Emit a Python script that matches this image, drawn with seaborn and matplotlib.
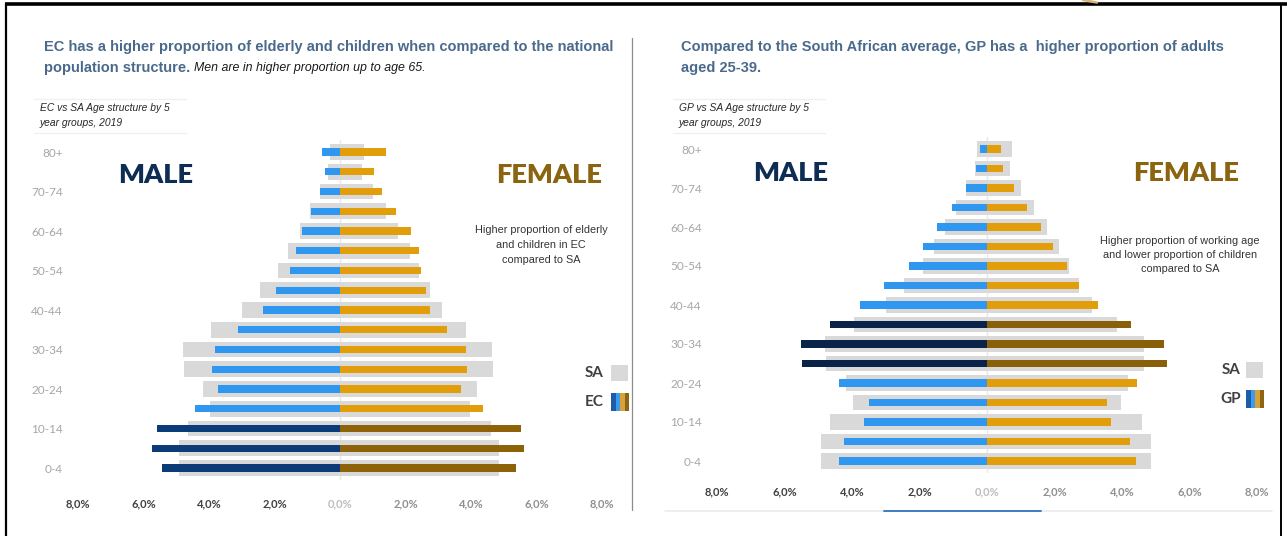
import numpy as np
import pandas as pd
import matplotlib
matplotlib.use("Agg")
import matplotlib.pyplot as plt
import seaborn as sns
from matplotlib.patches import Rectangle

# ---- data: share of total population (%) by 5-year age group, 2019 ----
age_groups = ["0-4", "5-9", "10-14", "15-19", "20-24", "25-29", "30-34", "35-39",
              "40-44", "45-49", "50-54", "55-59", "60-64", "65-69", "70-74", "75-79", "80+"]

sa_male = [4.93, 4.93, 4.65, 3.97, 4.19, 4.77, 4.80, 3.93, 2.98, 2.45, 1.90, 1.58,
           1.23, 0.92, 0.61, 0.36, 0.30]
sa_female = [4.85, 4.85, 4.60, 3.97, 4.17, 4.66, 4.65, 3.85, 3.12, 2.74, 2.42, 2.13,
             1.78, 1.40, 1.02, 0.67, 0.73]

ec_male = [5.44, 5.74, 5.60, 4.44, 3.74, 3.91, 3.83, 3.12, 2.35, 1.94, 1.53, 1.35,
           1.17, 0.89, 0.62, 0.46, 0.56]
ec_female = [5.36, 5.63, 5.53, 4.37, 3.70, 3.88, 3.85, 3.27, 2.76, 2.62, 2.46, 2.41,
             2.18, 1.72, 1.29, 1.03, 1.41]

gp_male = [4.40, 4.24, 3.65, 3.50, 4.40, 5.47, 5.52, 4.64, 3.77, 3.04, 2.30, 1.91,
           1.47, 1.03, 0.62, 0.32, 0.20]
gp_female = [4.40, 4.23, 3.68, 3.56, 4.44, 5.32, 5.24, 4.28, 3.28, 2.73, 2.37, 1.97,
             1.59, 1.18, 0.80, 0.48, 0.40]

ec_highlight = ["0-4", "5-9", "10-14"]
gp_highlight = ["25-29", "30-34", "35-39"]

x_ticks = [-8, -6, -4, -2, 0, 2, 4, 6, 8]
x_tick_labels = ["8,0%", "6,0%", "4,0%", "2,0%", "0,0%", "2,0%", "4,0%", "6,0%", "8,0%"]

# ---- colours ----
SA_GREY = "#D9D9D9"
LIGHT_BLUE = "#2F97F0"
ORANGE = "#E29E0A"
TITLE_BLUE = "#4A6A8C"
MALE_NAVY = "#0E2D55"
FEMALE_GOLD = "#8A6410"

sns.set_theme(style="white")
plt.rcParams["font.family"] = ["Liberation Sans", "DejaVu Sans"]
plt.rcParams["patch.linewidth"] = 0
plt.rcParams["patch.edgecolor"] = "none"

W, H = 1287, 536
fig = plt.figure(figsize=(W / 100, H / 100), dpi=100)
fig.patch.set_facecolor("white")


def px_axes(left, top, right, bottom):
    return fig.add_axes([left / W, 1 - bottom / H, (right - left) / W, (bottom - top) / H])


def draw_pyramid(ax, male, female, highlight, dark_m, dark_f, xpad):
    df = pd.DataFrame({
        "age": age_groups,
        "sa_m": -np.array(sa_male),
        "sa_f": np.array(sa_female),
        "m": -np.array(male),
        "f": np.array(female),
    })
    order = age_groups[::-1]
    pal_m = {a: (dark_m if a in highlight else LIGHT_BLUE) for a in age_groups}
    pal_f = {a: (dark_f if a in highlight else ORANGE) for a in age_groups}

    ax.axvline(0, color="#E8E8E8", lw=1, zorder=0)
    for col in ("sa_m", "sa_f"):
        sns.barplot(data=df, x=col, y="age", order=order, color=SA_GREY, saturation=1,
                    width=0.8, errorbar=None, ax=ax, zorder=1, linewidth=0,
                    edgecolor="none")
    sns.barplot(data=df, x="m", y="age", hue="age", order=order, hue_order=order,
                palette=pal_m, dodge=False, legend=False, saturation=1, width=0.36,
                errorbar=None, ax=ax, zorder=2, linewidth=0, edgecolor="none")
    sns.barplot(data=df, x="f", y="age", hue="age", order=order, hue_order=order,
                palette=pal_f, dodge=False, legend=False, saturation=1, width=0.36,
                errorbar=None, ax=ax, zorder=2, linewidth=0, edgecolor="none")

    ax.set_xlim(-8, 8)
    ax.set_ylim(len(age_groups) - 1 + 0.6, -0.6)
    ax.set_xlabel("")
    ax.set_ylabel("")
    for s in ax.spines.values():
        s.set_visible(False)
    ax.set_facecolor("none")

    ax.set_xticks(x_ticks)
    ax.set_xticklabels(x_tick_labels, fontfamily="Lato", fontsize=8, fontweight="bold")
    for t, v in zip(ax.get_xticklabels(), x_ticks):
        t.set_color("#404040" if v < 0 else ("#BDBDBD" if v == 0 else "#8F8F8F"))

    shown = age_groups[::2]
    ax.set_yticks([order.index(a) for a in shown])
    ax.set_yticklabels(shown, fontfamily="Lato", fontsize=8.5, color="#A6A6A6")
    ax.tick_params(axis="x", length=0, pad=xpad)
    ax.tick_params(axis="y", length=0, pad=11)


ax_ec = px_axes(78, 140.2, 602, 479.9)
draw_pyramid(ax_ec, ec_male, ec_female, ec_highlight, "#0B3C78", "#8E6208", xpad=13)

ax_gp = px_axes(717, 137.3, 1257, 472.7)
draw_pyramid(ax_gp, gp_male, gp_female, gp_highlight, "#0A2449", "#8A5F0A", xpad=10)

# ---- overlay in pixel coordinates for text and decorations ----
ov = fig.add_axes([0, 0, 1, 1], zorder=10)
ov.set_xlim(0, W)
ov.set_ylim(H, 0)
ov.axis("off")
ov.patch.set_alpha(0)

# frame
ov.plot([5, W], [3.5, 3.5], color="black", lw=2.6, solid_capstyle="butt")
ov.plot([6, 6], [3, H], color="black", lw=1.6, solid_capstyle="butt")
ov.plot([1281, 1281], [3, H], color="black", lw=1.4, solid_capstyle="butt")
ov.plot([1083, 1097], [0, 2.5], color="#D8B57A", lw=1.8)

# panel divider and bottom rules
ov.plot([632, 632], [38, 510], color="#8C8C8C", lw=0.9)
ov.plot([665, 1272], [511, 511], color="#EBEBEB", lw=1.2)
ov.plot([884, 1041], [511, 511], color="#3F7CC4", lw=1.4)

# titles
TFS = 10.5
ov.text(44, 47, "EC has a higher proportion of elderly and children when compared to the national",
        color=TITLE_BLUE, fontsize=TFS, fontweight="bold", va="center", ha="left")
t2 = ov.text(44, 68, "population structure.", color=TITLE_BLUE, fontsize=TFS,
             fontweight="bold", va="center", ha="left")
ov.text(681, 47, "Compared to the South African average, GP has a  higher proportion of adults",
        color=TITLE_BLUE, fontsize=TFS, fontweight="bold", va="center", ha="left")
ov.text(681, 68, "aged 25-39.", color=TITLE_BLUE, fontsize=TFS, fontweight="bold",
        va="center", ha="left")

fig.canvas.draw()
bb = t2.get_window_extent()
ov.text(bb.x1 + 4, 68, "Men are in higher proportion up to age 65.", color="#1A1A1A",
        fontsize=8.9, fontstyle="italic", va="center", ha="left")

# chart subtitles with thin rules
for x0, label in ((40, "EC"), (679, "GP")):
    ov.plot([x0 - 6, x0 + 146], [99, 99], color="#F0F0F0", lw=1)
    ov.plot([x0 - 6, x0 + 146], [133, 133], color="#F0F0F0", lw=1)
    ov.text(x0, 108, f"{label} vs SA Age structure by 5", fontsize=7.4, fontstyle="italic",
            color="#262626", va="center", ha="left")
    ov.text(x0, 123, "year groups, 2019", fontsize=7.4, fontstyle="italic",
            color="#262626", va="center", ha="left")

# MALE / FEMALE headings
for xm, xf, yy in ((156, 549, 175), (791, 1186, 173)):
    ov.text(xm, yy, "MALE", fontfamily="Lato", fontweight="heavy", fontsize=19.5,
            color=MALE_NAVY, ha="center", va="center")
    ov.text(xf, yy, "FEMALE", fontfamily="Lato", fontweight="heavy", fontsize=19.5,
            color=FEMALE_GOLD, ha="center", va="center")

# annotations
ov.text(541, 245, "Higher proportion of elderly\nand children in EC\ncompared to SA",
        fontsize=7.8, color="#333333", ha="center", va="center", linespacing=1.6)
ov.text(1180, 255, "Higher proportion of working age\nand lower proportion of children\ncompared to SA",
        fontsize=7.8, color="#333333", ha="center", va="center", linespacing=1.5)


# legends
def legend(x_text, x_box, y_sa, y_reg, region):
    ov.text(x_text, y_sa, "SA", fontfamily="Lato", fontweight="bold", fontsize=11,
            color="#404040", ha="right", va="center")
    ov.add_patch(Rectangle((x_box, y_sa - 8), 17, 16, color=SA_GREY, lw=0))
    ov.text(x_text, y_reg, region, fontfamily="Lato", fontweight="bold", fontsize=11,
            color="#404040", ha="right", va="center")
    stripes = ["#1C5DAA", "#3E9BEA", "#D7A23A", "#8E6512"]
    for i, c in enumerate(stripes):
        ov.add_patch(Rectangle((x_box + i * 4.5, y_reg - 9), 4.5, 18, color=c, lw=0))


legend(604, 611, 373, 402, "EC")
legend(1241, 1246, 370, 399, "GP")

fig.savefig("out.png", dpi=100, facecolor="white")
